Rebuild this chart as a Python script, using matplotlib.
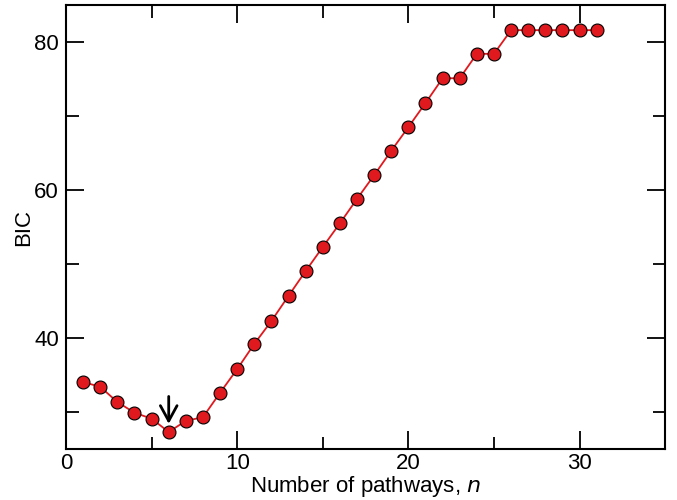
import matplotlib
matplotlib.use('Agg')
import matplotlib.pyplot as plt
from matplotlib.ticker import MultipleLocator

plt.rcParams['font.family'] = ['Liberation Sans', 'DejaVu Sans']

# 数据
n_paths = list(range(1, 32))
bic = [34.05, 33.4, 31.35, 29.9, 29.1, 27.3, 28.8, 29.3, 32.6, 35.8,
       39.2, 42.3, 45.7, 49.05, 52.3, 55.5, 58.8, 62.0, 65.3, 68.5,
       71.75, 75.1, 75.1, 78.4, 78.4, 81.6, 81.6, 81.6, 81.6, 81.6, 81.6]
best_n = 6

fig = plt.figure(figsize=(6.77, 5.0), dpi=100)
ax = fig.add_axes([0.0975, 0.102, 0.885, 0.888])

ax.plot(n_paths, bic, '-', color='#e0191e', lw=1.3, zorder=2)
ax.plot(n_paths, bic, 'o', ms=9.3, mfc='#e0191e', mec='black', mew=0.8, zorder=3)

# 最小值箭头
ymin = bic[n_paths.index(best_n)]
ax.annotate('', xy=(best_n, ymin + 1.1), xytext=(best_n, ymin + 4.8),
            arrowprops=dict(arrowstyle='->,head_width=0.3,head_length=0.55',
                            lw=2, color='black', mutation_scale=20,
                            shrinkA=0, shrinkB=0))

ax.set_xlim(0, 35)
ax.set_ylim(25, 85)
ax.xaxis.set_major_locator(MultipleLocator(10))
ax.xaxis.set_minor_locator(MultipleLocator(5))
ax.yaxis.set_major_locator(MultipleLocator(20))
ax.yaxis.set_minor_locator(MultipleLocator(10))
ax.tick_params(which='both', direction='in', top=True, right=True,
               labelsize=16, width=1.3)
ax.tick_params(which='major', length=13)
ax.tick_params(axis='x', which='major', pad=3)
ax.tick_params(axis='y', which='major', pad=5)
ax.tick_params(which='minor', length=9)
for s in ax.spines.values():
    s.set_linewidth(1.5)

ax.set_xlabel('Number of pathways, $\\it{n}$', fontsize=16, labelpad=0)
ax.set_ylabel('BIC', fontsize=16, labelpad=0)

plt.savefig('out.png', dpi=100)
plt.close()
